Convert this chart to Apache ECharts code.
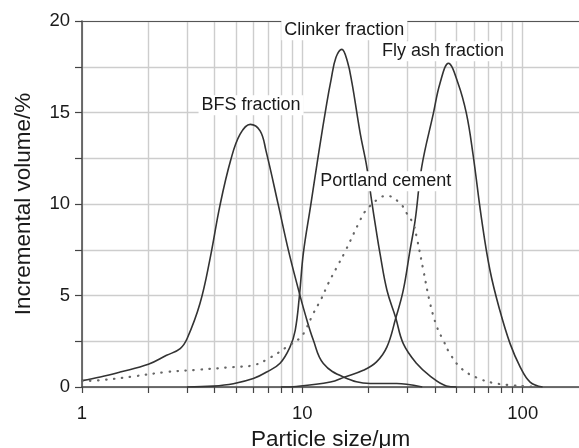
<!DOCTYPE html>
<html>
<head>
<meta charset="utf-8">
<script src="https://cdn.jsdelivr.net/npm/echarts@6/dist/echarts.min.js"></script>
<style>
  body { margin: 0; padding: 0; background: #fff; }
  #chart { width: 579px; height: 448px; }
</style>
</head>
<body>
<div id="chart"></div>
<script>
// particle size (um) vs incremental volume (%)
var bfsData = [[1, 0.35], [1.21, 0.55], [1.49, 0.82], [2.0, 1.24], [2.42, 1.73], [2.79, 2.1], [3.0, 2.65],
  [3.43, 4.56], [3.81, 7.0], [4.23, 9.94], [4.73, 12.4], [5.21, 13.8], [5.8, 14.35], [6.43, 14.0],
  [6.84, 12.9], [7.78, 9.94], [8.64, 7.48], [9.44, 5.65], [10.28, 4.01], [11.22, 2.55], [12.45, 1.28],
  [15.35, 0.55], [20.3, 0.19], [26.8, 0.19], [29.7, 0.15], [35, 0]];
var clinkerData = [[3, 0], [3.94, 0.05], [4.86, 0.18], [5.99, 0.46], [6.89, 0.82], [7.92, 1.3], [8.79, 2.19],
  [9.28, 3.1], [9.7, 5.0], [10.1, 7.3], [10.9, 9.9], [11.9, 12.9], [12.9, 15.5], [13.5, 16.8], [14.2, 18.0],
  [15.1, 18.45], [16.0, 17.8], [16.8, 16.6], [18.3, 13.86], [19.6, 12.03], [20.6, 10.21], [21.6, 8.6],
  [22.5, 7.3], [24.2, 5.29], [26.5, 3.8], [28.7, 2.37], [33, 1.28], [38, 0.6], [45, 0.06], [50, 0]];
var flyAshData = [[8, 0], [9.4, 0.03], [13.4, 0.27], [15.6, 0.55], [18.9, 0.91], [21.7, 1.37], [24.2, 2.19],
  [26.5, 3.74], [28.7, 5.29], [30.8, 7.48], [32.5, 9.12], [34.8, 12.03], [39.3, 14.95], [42.1, 16.59],
  [46.0, 17.69], [50.9, 16.59], [55.5, 14.95], [59.4, 12.76], [65, 9.2], [71, 6.38], [78.7, 4.19],
  [87.6, 2.37], [97.4, 1.09], [108, 0.27], [123, 0]];
var portlandData = [[1, 0.33], [1.21, 0.37], [1.71, 0.58], [2.42, 0.82], [3.43, 0.95], [4.86, 1.09], [6.0, 1.19],
  [7.13, 1.6], [8.5, 2.19], [9.8, 2.7], [10.4, 3.19], [11.2, 4.01], [12.2, 4.83], [13.1, 5.65], [14.5, 6.66],
  [15.6, 7.38], [18.3, 9.12], [19.2, 9.57], [22.2, 10.3], [24.2, 10.45], [27.8, 10.03], [29.8, 9.48],
  [31.9, 8.9], [33, 8.2], [35.4, 6.38], [38, 4.56], [40.8, 3.28], [43.6, 2.55], [46.7, 1.83], [52.8, 1.0],
  [61.9, 0.51], [73.6, 0.22], [90.5, 0.09], [104, 0.04], [115, 0]];

// axis ticks / labels
var xTickValues = [1, 2, 3, 4, 5, 6, 7, 8, 9, 10, 20, 30, 40, 50, 60, 70, 80, 90, 100];
var xLabelValues = [1, 10, 100];

// annotation text and where it sits [size, volume]
var labelNames = ['BFS fraction', 'Clinker fraction', 'Fly ash fraction', 'Portland cement'];
var labelCoords = [[5.85, 15.4], [15.5, 19.5], [43.5, 18.35], [23.9, 11.25]];

var font = 'Liberation Sans, Arial, Helvetica, sans-serif';
var lineColor = '#333';

function note(i) {
  return {
    symbol: 'circle',
    symbolSize: 2,
    itemStyle: { color: 'rgba(0,0,0,0)' },
    label: {
      show: true,
      position: 'inside',
      formatter: labelNames[i],
      fontFamily: font,
      fontSize: 18,
      color: '#1a1a1a',
      backgroundColor: '#fff',
      padding: [1, 3]
    },
    data: [{ coord: labelCoords[i], name: labelNames[i] }]
  };
}

function curve(name, data, i) {
  return {
    name: name,
    type: 'line',
    xAxisIndex: 0,
    data: data,
    showSymbol: false,
    smooth: 0.4,
    lineStyle: { color: lineColor, width: 1.6 },
    markPoint: note(i)
  };
}

var chart = echarts.init(document.getElementById('chart'));
var portland = curve('Portland cement', portlandData, 3);
portland.lineStyle = { color: '#666', width: 2.2, type: [0.5, 7.5], cap: 'round' };

var option = {
  animation: false,
  grid: { left: 82, right: 0, top: 21, bottom: 61, outerBoundsMode: 'none' },
  xAxis: [{
    type: 'log',
    logBase: 10,
    min: 1,
    max: 180,
    name: 'Particle size/\u03bcm',
    nameLocation: 'middle',
    nameGap: 40,
    nameTextStyle: { fontFamily: font, fontSize: 22.5, color: '#1a1a1a' },
    axisLine: { lineStyle: { color: '#444', width: 1.5 } },
    axisTick: { customValues: xTickValues, length: 6, lineStyle: { color: '#444', width: 1.2 } },
    axisLabel: { customValues: xLabelValues, fontFamily: font, fontSize: 18.5, color: '#1a1a1a', margin: 17 },
    splitLine: { show: true, lineStyle: { color: '#cdcdcd', width: 1.4 } }
  }, {
    type: 'log',
    logBase: 10,
    min: 1,
    max: 180,
    position: 'top',
    axisLine: { lineStyle: { color: '#555', width: 1.2 } },
    axisTick: { show: false },
    axisLabel: { show: false },
    splitLine: { show: false }
  }],
  yAxis: {
    type: 'value',
    min: 0,
    max: 20,
    interval: 2.5,
    name: 'Incremental volume/%',
    nameLocation: 'middle',
    nameGap: 47,
    nameTextStyle: { fontFamily: font, fontSize: 22.5, color: '#1a1a1a' },
    axisLine: { show: true, lineStyle: { color: '#444', width: 1.5 } },
    axisTick: { show: true, length: 7, lineStyle: { color: '#444', width: 1.2 } },
    axisLabel: {
      fontFamily: font, fontSize: 18.5, color: '#1a1a1a', margin: 12,
      formatter: function (v) { return v % 5 === 0 ? String(v) : ''; }
    },
    splitLine: { show: true, lineStyle: { color: '#cdcdcd', width: 1.4 } }
  },
  series: [
    curve('BFS fraction', bfsData, 0),
    curve('Clinker fraction', clinkerData, 1),
    curve('Fly ash fraction', flyAshData, 2),
    portland
  ]
};
chart.setOption(option);
</script>
</body>
</html>
